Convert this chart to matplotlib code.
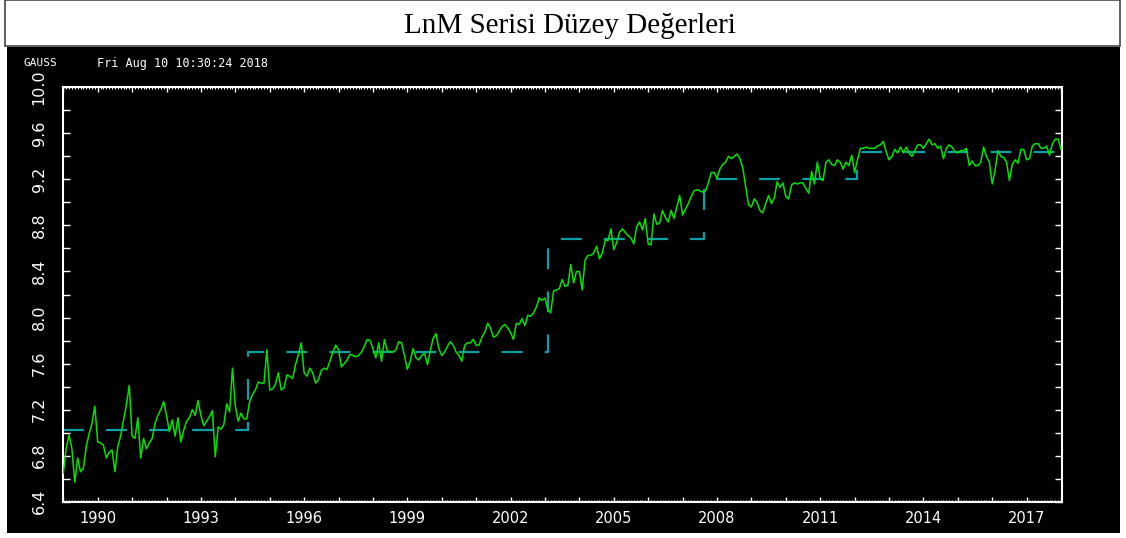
import numpy as np
import matplotlib
matplotlib.use('Agg')
import matplotlib.pyplot as plt
from matplotlib.patches import Rectangle
from matplotlib.ticker import MultipleLocator, FixedLocator

# monthly LnM levels starting 1989:01
start_year = 1989.0
lnm = [6.65, 6.86, 6.98, 6.86, 6.57, 6.78, 6.66, 6.69, 6.88, 6.99,
       7.08, 7.23, 6.92, 6.91, 6.89, 6.78, 6.83, 6.85, 6.66, 6.88,
       6.97, 7.11, 7.24, 7.41, 6.97, 6.95, 7.13, 6.78, 6.95, 6.86,
       6.91, 6.95, 7.08, 7.15, 7.20, 7.27, 7.15, 7.01, 7.11, 6.97,
       7.13, 6.92, 7.02, 7.10, 7.13, 7.20, 7.15, 7.28, 7.15, 7.06,
       7.10, 7.14, 7.19, 6.79, 7.05, 7.03, 7.07, 7.25, 7.18, 7.56,
       7.23, 7.10, 7.17, 7.12, 7.12, 7.27, 7.33, 7.37, 7.44, 7.43,
       7.43, 7.72, 7.37, 7.38, 7.42, 7.52, 7.37, 7.39, 7.50, 7.49,
       7.47, 7.59, 7.68, 7.78, 7.52, 7.49, 7.56, 7.52, 7.43, 7.46,
       7.54, 7.56, 7.55, 7.62, 7.70, 7.76, 7.72, 7.57, 7.60, 7.63,
       7.68, 7.67, 7.66, 7.67, 7.70, 7.75, 7.81, 7.80, 7.73, 7.65,
       7.78, 7.62, 7.81, 7.71, 7.70, 7.70, 7.72, 7.79, 7.78, 7.67,
       7.55, 7.62, 7.73, 7.65, 7.63, 7.67, 7.69, 7.59, 7.71, 7.82,
       7.86, 7.73, 7.67, 7.70, 7.75, 7.79, 7.76, 7.70, 7.67, 7.62,
       7.76, 7.78, 7.78, 7.81, 7.76, 7.76, 7.83, 7.87, 7.95, 7.91,
       7.83, 7.84, 7.88, 7.92, 7.94, 7.91, 7.87, 7.81, 7.95, 7.94,
       7.99, 7.93, 8.02, 8.01, 8.04, 8.09, 8.17, 8.15, 8.17, 8.07,
       8.04, 8.23, 8.24, 8.25, 8.33, 8.27, 8.28, 8.46, 8.30, 8.40,
       8.40, 8.24, 8.50, 8.54, 8.54, 8.56, 8.62, 8.51, 8.56, 8.67,
       8.67, 8.77, 8.59, 8.65, 8.74, 8.77, 8.74, 8.71, 8.69, 8.64,
       8.79, 8.83, 8.76, 8.86, 8.64, 8.63, 8.90, 8.81, 8.82, 8.93,
       8.87, 8.83, 8.93, 8.86, 8.96, 9.06, 8.89, 8.94, 8.99, 9.05,
       9.10, 9.11, 9.10, 9.09, 9.10, 9.17, 9.26, 9.26, 9.21, 9.29,
       9.33, 9.35, 9.40, 9.38, 9.40, 9.42, 9.38, 9.30, 9.14, 8.98,
       8.96, 9.03, 9.00, 8.93, 8.91, 8.99, 9.06, 8.99, 9.04, 9.18,
       9.13, 9.17, 9.05, 9.03, 9.15, 9.17, 9.16, 9.17, 9.17, 9.12,
       9.08, 9.27, 9.16, 9.35, 9.21, 9.19, 9.35, 9.37, 9.33, 9.32,
       9.37, 9.35, 9.29, 9.35, 9.32, 9.41, 9.26, 9.37, 9.47, 9.47,
       9.48, 9.47, 9.47, 9.47, 9.49, 9.50, 9.53, 9.44, 9.37, 9.40,
       9.46, 9.43, 9.48, 9.43, 9.48, 9.43, 9.40, 9.45, 9.50, 9.50,
       9.47, 9.51, 9.55, 9.50, 9.51, 9.47, 9.49, 9.38, 9.47, 9.50,
       9.48, 9.44, 9.43, 9.45, 9.45, 9.47, 9.32, 9.36, 9.32, 9.32,
       9.35, 9.48, 9.40, 9.35, 9.16, 9.28, 9.45, 9.40, 9.39, 9.35,
       9.19, 9.33, 9.37, 9.34, 9.46, 9.46, 9.37, 9.38, 9.49, 9.51,
       9.51, 9.47, 9.47, 9.49, 9.41, 9.51, 9.55, 9.55, 9.46]

# level (regime) series: break dates and levels
level_breaks = [1989.0, 1994.38, 2003.10, 2007.62, 2012.06, 2018.02]
level_values = [7.02, 7.70, 8.68, 9.20, 9.44, 9.44]

tick_years = list(range(1989, 2019))
label_years = [1990, 1993, 1996, 1999, 2002, 2005, 2008, 2011, 2014, 2017]
y_ticks = [6.4, 6.8, 7.2, 7.6, 8.0, 8.4, 8.8, 9.2, 9.6, 10.0]

plt.rcParams['lines.scale_dashes'] = False

W, H = 1126, 538
fig = plt.figure(figsize=(W / 100, H / 100), dpi=100, facecolor='white')

# black GAUSS graphics area
fig.patches.append(Rectangle((7 / W, 5 / H), 1113 / W, 486 / H,
                             transform=fig.transFigure, facecolor='black',
                             edgecolor='none', zorder=-10))
# title box
fig.patches.append(Rectangle((5 / W, 1 - 46 / H), 1115 / W, 45.5 / H,
                             transform=fig.transFigure, facecolor='white',
                             edgecolor='#444444', lw=1.2, zorder=-10))
fig.text(570 / W, 1 - 26 / H, 'LnM Serisi Düzey Değerleri', ha='center',
         va='center', fontsize=21, family='Liberation Serif', color='black')

fig.text(23 / W, 1 - 63 / H, 'GAUSS', ha='left', va='center', fontsize=8,
         family='DejaVu Sans Mono', color='white')
fig.text(97 / W, 1 - 63 / H, 'Fri Aug 10 10:30:24 2018', ha='left',
         va='center', fontsize=8.5, family='DejaVu Sans Mono', color='white')

ax = fig.add_axes([63.3 / W, 1 - 501.7 / H, 998.4 / W, 414.4 / H])
ax.set_facecolor('black')

t = start_year + np.arange(len(lnm)) / 12.0
ax.plot(t, lnm, color='#00e400', lw=1.1, zorder=3)
ax.step(level_breaks, level_values, where='post', color='#0aa0aa', lw=1.6,
        dashes=(15, 16), zorder=2)

ax.set_xlim(1989.0, 2018.02)
ax.set_ylim(6.4, 10.0)

for s in ax.spines.values():
    s.set_color('white')
    s.set_linewidth(1.5)

ax.xaxis.set_major_locator(FixedLocator(tick_years))
ax.set_xticklabels([str(y) if y in label_years else '' for y in tick_years])
ax.xaxis.set_minor_locator(MultipleLocator(1 / 12))
ax.set_yticks(y_ticks)
ax.set_yticklabels(['%.1f' % v for v in y_ticks], rotation=90, va='center')
ax.yaxis.set_minor_locator(MultipleLocator(0.2))

ax.tick_params(axis='x', which='major', direction='in', length=3.5, width=1,
               color='white', top=True, labelcolor='white', labelsize=10.5,
               pad=7)
ax.tick_params(axis='x', which='minor', direction='in', length=1.5, width=0.8,
               color='white', top=True)
ax.tick_params(axis='y', which='both', direction='in', length=5, width=1,
               color='white', right=True, labelcolor='white', labelsize=11.5,
               pad=12)

fig.savefig('out.png', dpi=100, facecolor='white')
